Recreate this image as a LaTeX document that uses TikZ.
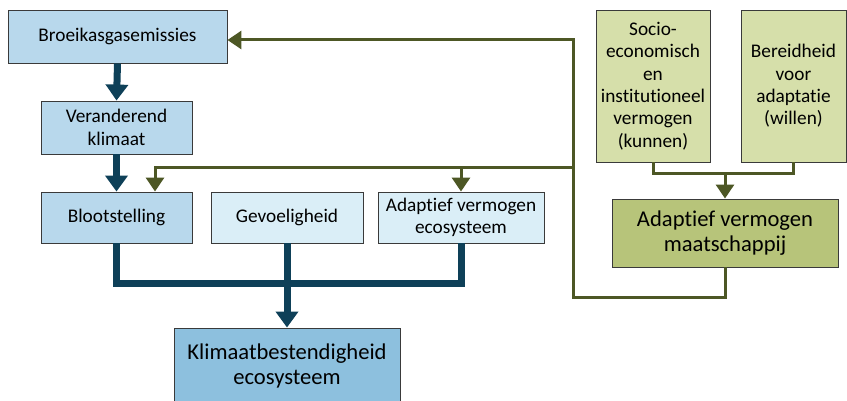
\documentclass[tikz,border=0pt]{standalone}
\usepackage{fontspec}
\setmainfont[RawFeature=-liga]{Carlito}
\usetikzlibrary{arrows.meta,calc}
\definecolor{bluemid}{HTML}{B8D8EC}
\definecolor{bluelight}{HTML}{DAEEF7}
\definecolor{bluedeep}{HTML}{8DC0DE}
\definecolor{greenlight}{HTML}{D6DFAA}
\definecolor{greenmid}{HTML}{B7C47A}
\definecolor{edgegray}{HTML}{3A3A3A}
\definecolor{flowblue}{HTML}{0E4058}
\definecolor{flowolive}{HTML}{4D5725}
\tikzset{
  box/.style={draw=edgegray, line width=0.9pt, align=center, inner sep=2pt,
    font=\fontsize{19.3}{22.4}\selectfont},
  bigtext/.style={font=\fontsize{22.6}{25.5}\selectfont},
  mainflow/.style={draw=flowblue, line width=7pt, line join=miter},
  mainarrow/.style={mainflow, -{Triangle[width=22pt,length=16pt]}},
  feedback/.style={draw=flowolive, line width=3pt, line join=miter},
  feedarrow/.style={feedback, -{Triangle[width=18pt,length=14pt]}}
}
\begin{document}
\begin{tikzpicture}[x=1pt, y=-1pt]
\useasboundingbox (0,0) rectangle (847,401);

% ecosystem chain
\node[box, fill=bluemid, minimum width=219pt, minimum height=53pt] (broe) at (117.5,36.5) {Broeikasgasemissies};
\node[box, fill=bluemid, minimum width=151pt, minimum height=53pt] (ver) at (116.5,127.5) {Veranderend\\klimaat};
\node[box, fill=bluemid, minimum width=151pt, minimum height=51pt] (bloot) at (116.5,217.5) {Blootstelling};
\node[box, fill=bluelight, minimum width=152pt, minimum height=51pt] (gev) at (287,217.5) {Gevoeligheid};
\node[box, fill=bluelight, minimum width=166pt, minimum height=51pt] (adeco) at (461,217.5) {Adaptief vermogen\\ecosysteem};
\node[box, bigtext, fill=bluedeep, minimum width=226pt, minimum height=76pt] (klim) at (287,366) {Klimaatbestendigheid\\ecosysteem};

% society
\node[box, fill=greenlight, minimum width=114pt, minimum height=152pt] (socio) at (653,86) {Socio-\\economisch\\en\\institutioneel\\vermogen\\(kunnen)};
\node[box, fill=greenlight, minimum width=105pt, minimum height=152pt] (ber) at (793.5,86) {Bereidheid\\voor\\adaptatie\\(willen)};
\node[box, bigtext, fill=greenmid, minimum width=226pt, minimum height=68pt] (admaat) at (725,233) {Adaptief vermogen\\maatschappij};

% junction points
\coordinate (j) at (287,283);
\coordinate (s) at (725,174);
\coordinate (g1) at (573,297);
\coordinate (g2) at (573,40);
\coordinate (g3) at (573,168);

% main flow
\draw[mainarrow] (broe.south) -- (ver.north);
\draw[mainarrow] (ver.south) -- (bloot.north);
\draw[mainflow] (bloot.south) |- (j);
\draw[mainflow] (adeco.south) |- (j);
\draw[mainarrow] (gev.south) -- (klim.north);

% feedback from society
\draw[feedback] (socio.south) |- (s) -| (ber.south);
\draw[feedarrow] (s) -- (admaat.north);
\draw[feedarrow] (admaat.south) |- (g1) -- (g2) -- (g2 -| broe.east);
\draw[feedarrow] (g3) -| ([xshift=38.5pt]bloot.north);
\draw[feedarrow] (adeco.north |- g3) -- (adeco.north);
\end{tikzpicture}
\end{document}
